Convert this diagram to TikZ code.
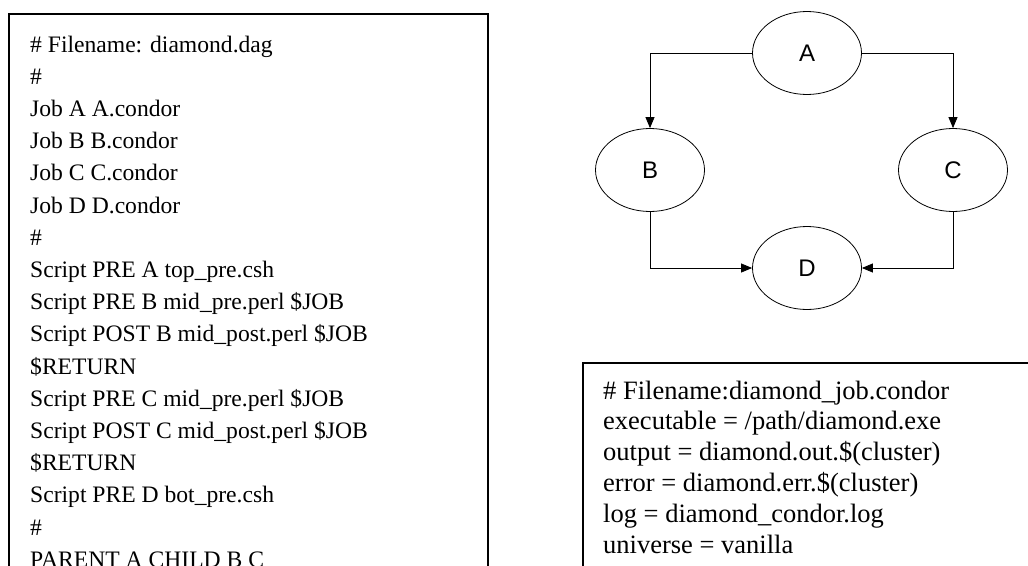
\documentclass[tikz,border=0pt]{standalone}
\usepackage{fontspec}
\setmainfont{Liberation Serif}
\newfontfamily\labelfont{Liberation Sans}
\usepackage{tikz}
\usetikzlibrary{arrows.meta,shapes.geometric}
\tikzset{
  codebox/.style={draw=black,line width=1.5pt},
  codeline/.style={anchor=base west,inner sep=0pt,font=\fontsize{23.6}{30}\selectfont},
  subline/.style={codeline,font=\fontsize{26.5}{31}\selectfont},
  jobnode/.style={ellipse,draw=black,line width=0.8pt,minimum width=109pt,
    minimum height=83pt,inner sep=0pt,font=\labelfont\fontsize{24}{28}\selectfont},
  depend/.style={line width=0.8pt,-{Triangle[length=11pt,width=9pt]}}
}
\begin{document}
\begin{tikzpicture}[x=1pt,y=-1pt]
  \useasboundingbox (0,0) rectangle (1028,565);
  \clip (0,0) rectangle (1028,565);
  \draw[codebox] (9,14) rectangle (488,620);
  \foreach \txt [count=\i] in {{\# Filename: diamond.dag},{\#},{Job A A.condor},
      {Job B B.condor},{Job C C.condor},{Job D D.condor},{\#},
      {Script PRE A top\_pre.csh},{Script PRE B mid\_pre.perl \$JOB},
      {Script POST B mid\_post.perl \$JOB},{\$RETURN},
      {Script PRE C mid\_pre.perl \$JOB},{Script POST C mid\_post.perl \$JOB},
      {\$RETURN},{Script PRE D bot\_pre.csh},{\#},{PARENT A CHILD B C}}
    \node[codeline] (dag\i) at (30,{52+32.2*(\i-1)}) {\txt};
  \node[jobnode] (A) at (807,53) {A};
  \node[jobnode] (B) at (650,170) {B};
  \node[jobnode] (C) at (953,170) {C};
  \node[jobnode] (D) at (807,268) {D};
  \draw[depend] (A.west) -| (B.north);
  \draw[depend] (A.east) -| (C.north);
  \draw[depend] (B.south) |- (D.west);
  \draw[depend] (C.south) |- (D.east);
  \draw[codebox] (583,363) rectangle (1040,620);
  \foreach \txt [count=\i] in {{\# Filename:diamond\_job.condor},
      {executable = /path/diamond.exe},{output = diamond.out.\$(cluster)},
      {error = diamond.err.\$(cluster)},{log = diamond\_condor.log},
      {universe = vanilla}}
    \node[subline] (sub\i) at (603,{399+30.8*(\i-1)}) {\txt};
\end{tikzpicture}
\end{document}
